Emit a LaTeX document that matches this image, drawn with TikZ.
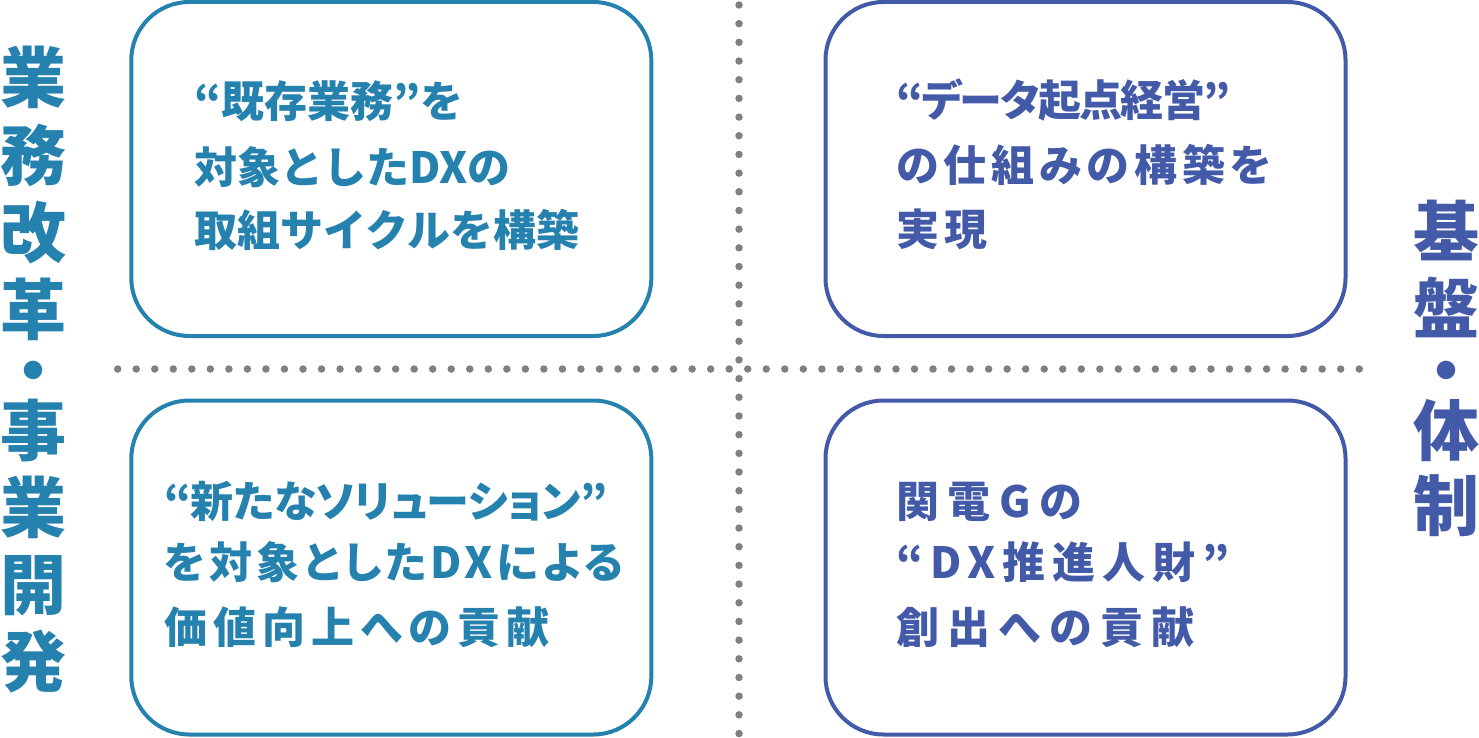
\documentclass[tikz,border=0pt]{standalone}
\usepackage{fontspec}
\setmainfont{Noto Sans CJK JP}
\newcommand\paltspace[1]{\addfontfeatures{RawFeature=+palt,LetterSpace=#1}}
\definecolor{dxteal}{HTML}{2581AE}
\definecolor{dxindigo}{HTML}{435AA8}
\definecolor{dotgray}{HTML}{808080}
\tikzset{
  quadbox/.style={draw=#1, line width=4pt, rounded corners=58pt,
    minimum width=520pt, minimum height=334pt, inner sep=0pt},
  boxtext/.style 2 args={text=#1, anchor=base west, inner sep=0pt,
    font=\fontsize{43}{43}\selectfont\bfseries#2},
  sidetext/.style={text=#1, anchor=base, inner sep=0pt,
    font=\fontsize{66}{66}\selectfont\bfseries},
  dotline/.style={dotgray, line width=7.5pt, line cap=round,
    dash pattern=on 0pt off #1}
}
\begin{document}
\begin{tikzpicture}[x=1pt, y=-1pt]
  \useasboundingbox (0,0) rectangle (1479,738);
  % dividers
  \coordinate (vtop) at (739,5);
  \coordinate (vbot) at (739,734);
  \coordinate (hleft) at (117.7,369);
  \coordinate (hright) at (1360,369);
  \draw[dotline=18.68pt] (vtop) -- (vbot);
  \draw[dotline=18.53pt] (hleft) -- (hright);
  % quadrants
  \node[quadbox=dxteal] (boxTL) at (391.3,169) {};
  \node[quadbox=dxteal] (boxBL) at (391.3,567.5) {};
  \node[quadbox=dxindigo] (boxTR) at (1085.5,169) {};
  \node[quadbox=dxindigo] (boxBR) at (1085.5,567.5) {};
  \node[boxtext={dxteal}{}] (tl1) at (194,118) {“既存業務”を};
  \node[boxtext={dxteal}{}] (tl2) at (194,183) {対象としたDXの};
  \node[boxtext={dxteal}{}] (tl3) at (194,246) {取組サイクルを構築};
  \node[boxtext={dxindigo}{\paltspace{-3.8}}] (tr1) at (896,117) {“データ起点経営”};
  \node[boxtext={dxindigo}{\paltspace{11.6}}] (tr2) at (896,182) {の仕組みの構築を};
  \node[boxtext={dxindigo}{\paltspace{11.6}}] (tr3) at (896,245) {実現};
  \node[boxtext={dxteal}{\paltspace{-1}}] (bl1) at (164,517) {“新たなソリューション”};
  \node[boxtext={dxteal}{\paltspace{9.5}}] (bl2) at (164,578) {を対象としたDXによる};
  \node[boxtext={dxteal}{\paltspace{14.2}}] (bl3) at (164,643) {価値向上への貢献};
  \node[boxtext={dxindigo}{\paltspace{20}}] (br1) at (896,517) {関電Gの};
  \node[boxtext={dxindigo}{\paltspace{16.3}}] (br2) at (896,578) {“DX推進人財”};
  \node[boxtext={dxindigo}{\paltspace{19.5}}] (br3) at (896,643) {創出への貢献};
  % side labels
  \foreach \ch/\y [count=\i] in {業/78, 務/155, 改/232, 革/309, ・/370,
      事/430, 業/507, 開/584, 発/661}
    \node[sidetext=dxteal] (left\i) at (33,\y+25) {\ch};
  \foreach \ch/\y [count=\i] in {基/231, 盤/308, ・/370, 体/430, 制/505}
    \node[sidetext=dxindigo] (right\i) at (1446,\y+25) {\ch};
\end{tikzpicture}
\end{document}
